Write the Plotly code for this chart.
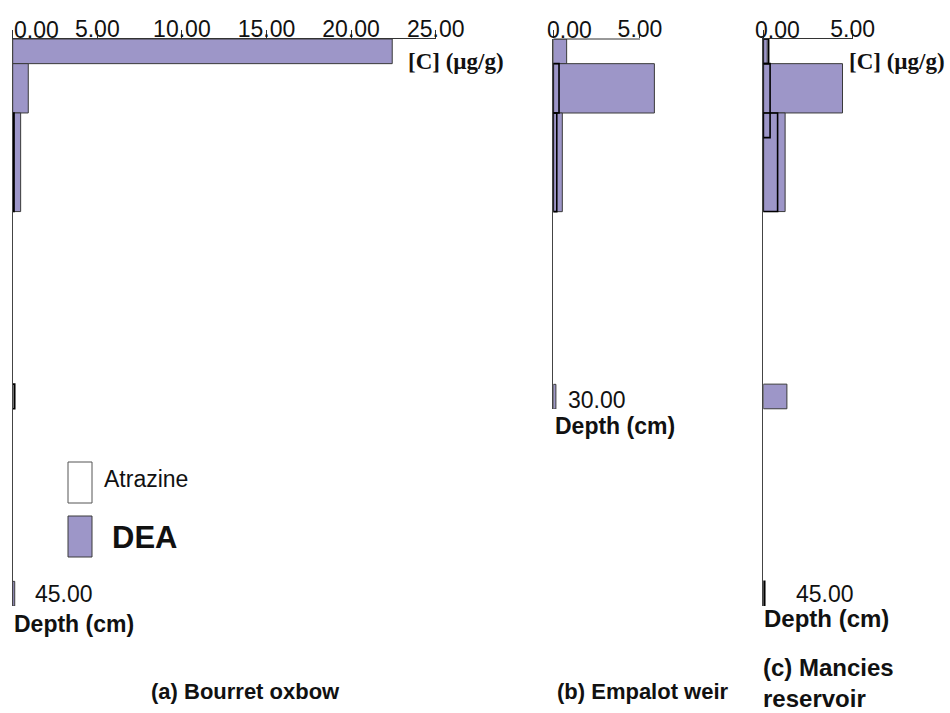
import plotly.graph_objects as go

# ---------------- data ----------------
# depth intervals (cm) and concentrations (µg/g)
a_dea_top = [0, 2, 6, 44]
a_dea_bot = [2, 6, 14, 46]
a_dea = [22.43, 0.92, 0.47, 0.12]
a_atr_top = [6, 28]
a_atr_bot = [14, 30]
a_atr = [0.08, 0.12]

b_dea_top = [0, 2, 6, 28]
b_dea_bot = [2, 6, 14, 30]
b_dea = [0.77, 5.83, 0.52, 0.15]
b_atr_top = [2, 6]
b_atr_bot = [6, 14]
b_atr = [0.33, 0.20]

c_dea_top = [0, 2, 6, 28]
c_dea_bot = [2, 6, 14, 30]
c_dea = [0.22, 4.43, 1.22, 1.32]
c_atr_top = [0, 2, 6, 44]
c_atr_bot = [2, 8, 14, 46]
c_atr = [0.30, 0.38, 0.80, 0.08]

a_ticks = [0, 5, 10, 15, 20, 25]
bc_ticks = [0, 5]
depth_labels = ["45.00", "30.00", "45.00"]
depth_label_vals = [45, 29.3, 45]
site_titles = ["(a) Bourret oxbow", "(b) Empalot weir", "(c) Mancies<br>reservoir"]

W, H = 950, 713
PURPLE = "#9d96c8"
SANS = "Liberation Sans, Arial, sans-serif"
SERIF = "Liberation Serif, Times New Roman, serif"


def px(x):
    return x / W


def py(y):
    return 1 - y / H


def fmt(v):
    return f"{v:.2f}"


def bars(tops, bots, vals, xa, ya, kind):
    centers = [(t + b) / 2 for t, b in zip(tops, bots)]
    widths = [b - t for t, b in zip(tops, bots)]
    if kind == "dea":
        marker = dict(color=PURPLE, line=dict(color="#3a3a3a", width=1))
    else:
        marker = dict(color="rgba(255,255,255,0)", line=dict(color="black", width=1.6))
    return go.Bar(y=centers, x=vals, width=widths, orientation="h", base=0,
                  marker=marker, xaxis=xa, yaxis=ya, showlegend=False, hoverinfo="x+y")


fig = go.Figure()
fig.add_trace(bars(a_dea_top, a_dea_bot, a_dea, "x", "y", "dea"))
fig.add_trace(bars(a_atr_top, a_atr_bot, a_atr, "x", "y", "atr"))
fig.add_trace(bars(b_dea_top, b_dea_bot, b_dea, "x2", "y2", "dea"))
fig.add_trace(bars(b_atr_top, b_atr_bot, b_atr, "x2", "y2", "atr"))
fig.add_trace(bars(c_dea_top, c_dea_bot, c_dea, "x3", "y3", "dea"))
fig.add_trace(bars(c_atr_top, c_atr_bot, c_atr, "x3", "y3", "atr"))

tickfont = dict(family=SANS, size=23, color="#111")


def xaxis(domain, rng, ticks, anchor, showline=True):
    ttext = [fmt(t) for t in ticks]
    ttext[0] = ""  # the zero label is set left-aligned below
    return dict(domain=domain, range=rng, side="top", anchor=anchor,
                tickvals=ticks, ticktext=ttext, showline=showline,
                linecolor="#333", linewidth=1, ticks="outside", ticklen=8,
                tickcolor="#333", tickwidth=1, showgrid=False, zeroline=False,
                tickfont=tickfont, ticklabelstandoff=-16, automargin=False,
                ticklabeloverflow="allow", fixedrange=True)


def yaxis(domain, rng, anchor):
    return dict(domain=domain, range=rng, anchor=anchor, showline=True,
                linecolor="#444", linewidth=1, showgrid=False, zeroline=False,
                showticklabels=False, ticks="", automargin=False, fixedrange=True)


ydom_ac = [py(606), py(39)]
ydom_b = [py(409), py(39)]

fig.update_layout(
    width=W, height=H, margin=dict(l=0, r=0, t=0, b=0, autoexpand=False),
    paper_bgcolor="white", plot_bgcolor="white", barmode="overlay",
    xaxis=xaxis([px(12.7), px(435.7)], [0, 25], a_ticks, "y"),
    yaxis=yaxis(ydom_ac, [46, 0], "x"),
    xaxis2=xaxis([px(553.3), px(655.6)], [0, 5.9], bc_ticks, "y2", showline=False),
    yaxis2=yaxis(ydom_b, [30, 0], "x2"),
    xaxis3=xaxis([px(763.3), px(852.7)], [0, 5], bc_ticks, "y3"),
    yaxis3=yaxis(ydom_ac, [46, 0], "x3"),
)

# axis line of panel (b) only runs to the last tick
fig.add_shape(type="line", xref="x2", yref="y2 domain", x0=0, x1=5, y0=1, y1=1,
              line=dict(color="#333", width=1))

annots = []
# zero labels of the concentration axes (left-aligned at the origin)
for xa, ya, shift, tv in (("x", "y", -1, a_ticks[0]), ("x2", "y2", -8, bc_ticks[0]),
                          ("x3", "y3", -10, bc_ticks[0])):
    annots.append(dict(x=tv, y=1, xref=xa, yref=ya + " domain", xanchor="left",
                       yanchor="bottom", xshift=shift, yshift=-6, showarrow=False,
                       text=fmt(tv), font=tickfont))
# depth end labels, placed on the depth axes
for (xa, ya), lab, val, shift in zip((("x", "y"), ("x2", "y2"), ("x3", "y3")),
                                     depth_labels, depth_label_vals, (20, 13, 31)):
    annots.append(dict(x=0, y=val, xref=xa, yref=ya, xanchor="left", yanchor="middle",
                       xshift=shift, showarrow=False, text=lab, font=tickfont))
# concentration axis labels
for x0 in (406, 847):
    annots.append(dict(x=px(x0), y=py(61), xref="paper", yref="paper",
                       xanchor="left", yanchor="middle", showarrow=False,
                       text="<b>[C] (µg/g)</b>",
                       font=dict(family=SERIF, size=23, color="#111")))
# depth titles
for x0, y0, fs in ((12, 624, 23), (553, 426, 23), (762, 618, 24)):
    annots.append(dict(x=px(x0), y=py(y0), xref="paper", yref="paper",
                       xanchor="left", yanchor="middle", showarrow=False,
                       text="<b>Depth (cm)</b>",
                       font=dict(family=SANS, size=fs, color="#111")))
# site titles
annots.append(dict(x=px(245), y=py(691), xref="paper", yref="paper", xanchor="center",
                   yanchor="middle", showarrow=False, text="<b>" + site_titles[0] + "</b>",
                   font=dict(family=SANS, size=22, color="#111")))
annots.append(dict(x=px(555), y=py(691), xref="paper", yref="paper", xanchor="left",
                   yanchor="middle", showarrow=False, text="<b>" + site_titles[1] + "</b>",
                   font=dict(family=SANS, size=22, color="#111")))
annots.append(dict(x=px(761), y=py(683), xref="paper", yref="paper", xanchor="left",
                   yanchor="middle", align="left", showarrow=False,
                   text="<b>" + site_titles[2] + "</b>",
                   font=dict(family=SANS, size=24, color="#111")))
# legend
fig.add_shape(type="rect", xref="paper", yref="paper", x0=px(68), x1=px(92),
              y0=py(503), y1=py(462), fillcolor="white", line=dict(color="#555", width=1))
fig.add_shape(type="rect", xref="paper", yref="paper", x0=px(68), x1=px(92),
              y0=py(557), y1=py(516), fillcolor=PURPLE, line=dict(color="#3a3a3a", width=1))
annots.append(dict(x=px(102), y=py(479), xref="paper", yref="paper", xanchor="left",
                   yanchor="middle", showarrow=False, text="Atrazine",
                   font=dict(family=SANS, size=23, color="#111")))
annots.append(dict(x=px(110), y=py(537), xref="paper", yref="paper", xanchor="left",
                   yanchor="middle", showarrow=False, text="<b>DEA</b>",
                   font=dict(family=SANS, size=31, color="#111")))

fig.update_layout(annotations=annots)
fig.write_html("out.html")
